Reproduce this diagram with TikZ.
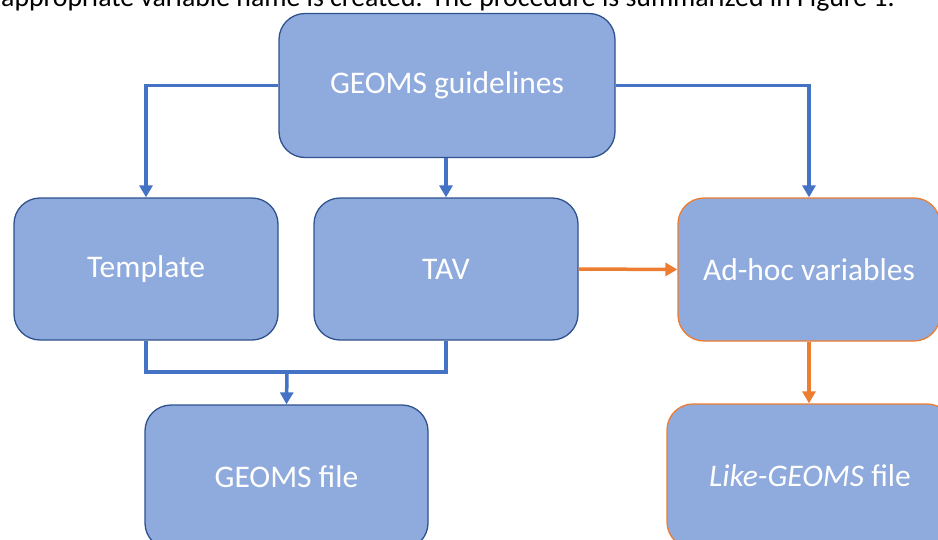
\documentclass[tikz,border=0pt]{standalone}
\usepackage{fontspec}
\setmainfont{Carlito}
\usetikzlibrary{arrows.meta}
\definecolor{boxfill}{HTML}{8FAADC}
\definecolor{boxline}{HTML}{2F528F}
\definecolor{arrblue}{HTML}{4472C4}
\definecolor{arrorange}{HTML}{ED7D31}
\tikzset{
  stepbox/.style={draw=boxline, line width=1.3pt, fill=boxfill, rounded corners=26pt,
    text=white, font=\fontsize{31.5}{36}\selectfont, inner sep=0pt},
  orangebox/.style={stepbox, draw=arrorange},
  bluearrow/.style={draw=arrblue, line width=3.5pt, -{Triangle[width=13pt,length=12pt]}},
  blueline/.style={draw=arrblue, line width=3.5pt},
  orangearrow/.style={draw=arrorange, line width=3.5pt, -{Triangle[width=13pt,length=12pt]}},
}
\begin{document}
\begin{tikzpicture}[x=1pt,y=-1pt]
\useasboundingbox (0,0) rectangle (938,539);
\fill[white] (0,0) rectangle (938,539);
\node[anchor=base west, inner sep=0pt, font=\fontsize{27.8}{32}\selectfont] (caption) at (1,6)
  {appropriate variable name is created. The procedure is summarized in Figure 1.};
\node[stepbox, minimum width=336pt, minimum height=144pt] (geoms) at (447,85.5) {GEOMS guidelines};
\node[stepbox, minimum width=264pt, minimum height=142pt] (template) at (146,269) {Template};
\node[stepbox, minimum width=264pt, minimum height=142pt] (tav) at (446,269) {TAV};
\node[orangebox, minimum width=262pt, minimum height=143pt] (adhoc) at (809,269.5) {Ad-hoc variables};
\node[stepbox, minimum width=283pt, minimum height=144pt] (geomsfile) at (286.5,477) {GEOMS file};
\node[orangebox, minimum width=286pt, minimum height=144pt] (likegeoms) at (810,476) {\textit{Like-GEOMS} file};
\coordinate (j) at (287,372);
\draw[bluearrow] (geoms.west) -| (template.north);
\draw[bluearrow] (geoms.east) -| (adhoc.north);
\draw[bluearrow] (tav.north |- geoms.south) -- (tav.north);
\draw[blueline] (template.south) |- (tav.south |- j) -- (tav.south);
\draw[bluearrow] (j) -- (geomsfile.north);
\draw[orangearrow] (tav.east) -- (adhoc.west);
\draw[orangearrow] (adhoc.south) -- (adhoc.south |- likegeoms.north);
\end{tikzpicture}
\end{document}
